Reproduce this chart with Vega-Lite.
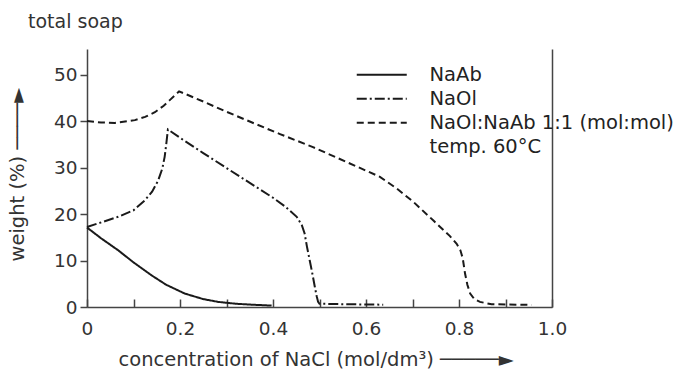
{
  "$schema": "https://vega.github.io/schema/vega-lite/v6.json",
  "width": 465,
  "height": 258,
  "autosize": {"type": "none"},
  "padding": {"left": 87, "top": 49, "right": 131, "bottom": 62},
  "background": "white",
  "title": {
    "text": "total soap",
    "anchor": "start",
    "frame": "group",
    "font": "DejaVu Sans",
    "fontSize": 19,
    "fontWeight": "normal",
    "color": "#333333",
    "baseline": "alphabetic",
    "dx": -59,
    "offset": 2
  },
  "config": {
    "view": {"stroke": null},
    "axis": {"grid": false},
    "legend": {
      "orient": "none",
      "legendX": 265,
      "legendY": 16,
      "padding": 0,
      "title": null,
      "symbolType": "M-1,0L9,0",
      "symbolSize": 100,
      "symbolStrokeWidth": 2,
      "symbolStrokeColor": "#1a1a1a",
      "labelFont": "DejaVu Sans",
      "labelFontSize": 19.5,
      "labelColor": "#222222",
      "labelOffset": 58,
      "labelLimit": 400,
      "rowPadding": 3
    }
  },
  "data": {
    "values": [
      {"series": "NaAb", "nacl": 0, "weight": 17.1},
      {"series": "NaAb", "nacl": 0.03, "weight": 14.8},
      {"series": "NaAb", "nacl": 0.067, "weight": 12.2},
      {"series": "NaAb", "nacl": 0.1, "weight": 9.6},
      {"series": "NaAb", "nacl": 0.139, "weight": 6.8},
      {"series": "NaAb", "nacl": 0.17, "weight": 4.8},
      {"series": "NaAb", "nacl": 0.21, "weight": 2.9},
      {"series": "NaAb", "nacl": 0.25, "weight": 1.7},
      {"series": "NaAb", "nacl": 0.282, "weight": 1.1},
      {"series": "NaAb", "nacl": 0.32, "weight": 0.7},
      {"series": "NaAb", "nacl": 0.354, "weight": 0.5},
      {"series": "NaAb", "nacl": 0.397, "weight": 0.3},
      {"series": "NaOl", "nacl": 0, "weight": 17.2},
      {"series": "NaOl", "nacl": 0.067, "weight": 19.4},
      {"series": "NaOl", "nacl": 0.1, "weight": 20.8},
      {"series": "NaOl", "nacl": 0.124, "weight": 22.9},
      {"series": "NaOl", "nacl": 0.14, "weight": 24.8},
      {"series": "NaOl", "nacl": 0.153, "weight": 27.2},
      {"series": "NaOl", "nacl": 0.162, "weight": 29.8},
      {"series": "NaOl", "nacl": 0.167, "weight": 32.3},
      {"series": "NaOl", "nacl": 0.171, "weight": 35.5},
      {"series": "NaOl", "nacl": 0.174, "weight": 38.2},
      {"series": "NaOl", "nacl": 0.2, "weight": 36.4},
      {"series": "NaOl", "nacl": 0.25, "weight": 33.1},
      {"series": "NaOl", "nacl": 0.3, "weight": 29.9},
      {"series": "NaOl", "nacl": 0.35, "weight": 26.7},
      {"series": "NaOl", "nacl": 0.4, "weight": 23.5},
      {"series": "NaOl", "nacl": 0.425, "weight": 21.7},
      {"series": "NaOl", "nacl": 0.451, "weight": 19.4},
      {"series": "NaOl", "nacl": 0.462, "weight": 17.6},
      {"series": "NaOl", "nacl": 0.468, "weight": 15.8},
      {"series": "NaOl", "nacl": 0.473, "weight": 13},
      {"series": "NaOl", "nacl": 0.479, "weight": 10},
      {"series": "NaOl", "nacl": 0.485, "weight": 7},
      {"series": "NaOl", "nacl": 0.49, "weight": 4.3},
      {"series": "NaOl", "nacl": 0.494, "weight": 2.3},
      {"series": "NaOl", "nacl": 0.497, "weight": 1.1},
      {"series": "NaOl", "nacl": 0.5, "weight": 0.7},
      {"series": "NaOl", "nacl": 0.55, "weight": 0.6},
      {"series": "NaOl", "nacl": 0.637, "weight": 0.5},
      {"series": "NaOl:NaAb 1:1 (mol:mol)", "nacl": 0, "weight": 40},
      {"series": "NaOl:NaAb 1:1 (mol:mol)", "nacl": 0.03, "weight": 39.7},
      {"series": "NaOl:NaAb 1:1 (mol:mol)", "nacl": 0.06, "weight": 39.6},
      {"series": "NaOl:NaAb 1:1 (mol:mol)", "nacl": 0.103, "weight": 40.2},
      {"series": "NaOl:NaAb 1:1 (mol:mol)", "nacl": 0.125, "weight": 40.9},
      {"series": "NaOl:NaAb 1:1 (mol:mol)", "nacl": 0.146, "weight": 41.9},
      {"series": "NaOl:NaAb 1:1 (mol:mol)", "nacl": 0.165, "weight": 43.3},
      {"series": "NaOl:NaAb 1:1 (mol:mol)", "nacl": 0.178, "weight": 44.5},
      {"series": "NaOl:NaAb 1:1 (mol:mol)", "nacl": 0.198, "weight": 46.4},
      {"series": "NaOl:NaAb 1:1 (mol:mol)", "nacl": 0.25, "weight": 44.2},
      {"series": "NaOl:NaAb 1:1 (mol:mol)", "nacl": 0.3, "weight": 42.0},
      {"series": "NaOl:NaAb 1:1 (mol:mol)", "nacl": 0.35, "weight": 39.9},
      {"series": "NaOl:NaAb 1:1 (mol:mol)", "nacl": 0.415, "weight": 37.2},
      {"series": "NaOl:NaAb 1:1 (mol:mol)", "nacl": 0.486, "weight": 34.4},
      {"series": "NaOl:NaAb 1:1 (mol:mol)", "nacl": 0.558, "weight": 31.2},
      {"series": "NaOl:NaAb 1:1 (mol:mol)", "nacl": 0.63, "weight": 28.0},
      {"series": "NaOl:NaAb 1:1 (mol:mol)", "nacl": 0.666, "weight": 25.5},
      {"series": "NaOl:NaAb 1:1 (mol:mol)", "nacl": 0.702, "weight": 22.6},
      {"series": "NaOl:NaAb 1:1 (mol:mol)", "nacl": 0.745, "weight": 18.6},
      {"series": "NaOl:NaAb 1:1 (mol:mol)", "nacl": 0.78, "weight": 15.3},
      {"series": "NaOl:NaAb 1:1 (mol:mol)", "nacl": 0.795, "weight": 13.6},
      {"series": "NaOl:NaAb 1:1 (mol:mol)", "nacl": 0.803, "weight": 12.2},
      {"series": "NaOl:NaAb 1:1 (mol:mol)", "nacl": 0.808, "weight": 10.5},
      {"series": "NaOl:NaAb 1:1 (mol:mol)", "nacl": 0.813, "weight": 7.2},
      {"series": "NaOl:NaAb 1:1 (mol:mol)", "nacl": 0.818, "weight": 4.8},
      {"series": "NaOl:NaAb 1:1 (mol:mol)", "nacl": 0.824, "weight": 2.9},
      {"series": "NaOl:NaAb 1:1 (mol:mol)", "nacl": 0.833, "weight": 1.7},
      {"series": "NaOl:NaAb 1:1 (mol:mol)", "nacl": 0.845, "weight": 1.1},
      {"series": "NaOl:NaAb 1:1 (mol:mol)", "nacl": 0.87, "weight": 0.6},
      {"series": "NaOl:NaAb 1:1 (mol:mol)", "nacl": 0.956, "weight": 0.45}
    ]
  },
  "layer": [
    {
      "mark": {"type": "line", "color": "#1a1a1a", "strokeWidth": 2, "interpolate": "linear"},
      "encoding": {
        "x": {
          "field": "nacl",
          "type": "quantitative",
          "scale": {"domain": [0, 1], "nice": false, "zero": false},
          "axis": {
            "values": [0, 0.1, 0.2, 0.3, 0.4, 0.5, 0.6, 0.7, 0.8, 0.9, 1.0],
            "labelExpr": "abs(datum.value) < 1e-9 ? '0' : (round(datum.value * 10) % 2 == 0 ? format(datum.value, '.1f') : '')",
            "tickSize": -8,
            "tickWidth": 1.5,
            "tickColor": "#444444",
            "domainColor": "#444444",
            "domainWidth": 1.5,
            "labelFont": "DejaVu Sans",
            "labelFontSize": 18.5,
            "labelColor": "#333333",
            "labelBaseline": "alphabetic",
            "labelPadding": 35,
            "labelFlush": false,
            "labelOverlap": false,
            "title": "concentration of NaCl (mol/dm³) ─────►",
            "titleFont": "DejaVu Sans",
            "titleFontSize": 19.5,
            "titleFontWeight": "normal",
            "titleColor": "#333333",
            "titleAnchor": "start",
            "titleAlign": "left",
            "titleBaseline": "alphabetic",
            "titleX": 31,
            "titleY": 58
          }
        },
        "y": {
          "field": "weight",
          "type": "quantitative",
          "scale": {"domain": [0, 55.5], "nice": false},
          "axis": {
            "orient": "left",
            "values": [0, 10, 20, 30, 40, 50],
            "tickSize": 7,
            "tickWidth": 1.5,
            "tickColor": "#444444",
            "domainColor": "#444444",
            "domainWidth": 1.5,
            "labelFont": "DejaVu Sans",
            "labelFontSize": 18.5,
            "labelColor": "#333333",
            "labelPadding": 3,
            "title": "weight (%) ────►",
            "titleFont": "DejaVu Sans",
            "titleFontSize": 19.5,
            "titleFontWeight": "normal",
            "titleColor": "#333333",
            "titleAngle": -90,
            "titleAlign": "left",
            "titleBaseline": "alphabetic",
            "titleX": -64,
            "titleY": 212
          }
        },
        "strokeDash": {
          "field": "series",
          "type": "nominal",
          "scale": {
            "domain": ["NaAb", "NaOl", "NaOl:NaAb 1:1 (mol:mol)", "temp. 60°C"],
            "range": [[1, 0], [10, 3, 2, 3], [7, 4], [1, 0]]
          },
          "legend": {
            "encode": {
              "symbols": {
                "update": {
                  "opacity": {"signal": "datum.value === 'temp. 60°C' ? 0 : 1"}
                }
              }
            }
          }
        }
      }
    },
    {
      "mark": {"type": "line", "strokeOpacity": 0},
      "encoding": {
        "x": {"field": "nacl", "type": "quantitative"},
        "y": {
          "field": "weight",
          "type": "quantitative",
          "axis": {
            "orient": "right",
            "labels": false,
            "ticks": false,
            "domainColor": "#444444",
            "domainWidth": 1.5,
            "title": null
          }
        },
        "detail": {"field": "series", "type": "nominal"}
      }
    }
  ],
  "resolve": {"axis": {"y": "independent"}}
}
